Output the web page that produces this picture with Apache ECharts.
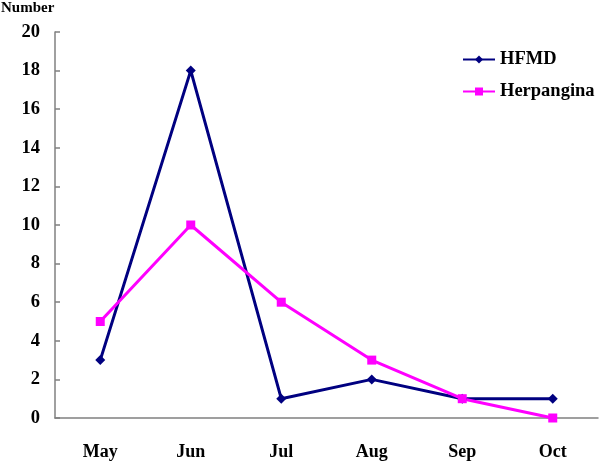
<!DOCTYPE html>
<html>
<head>
<meta charset="utf-8">
<script src="https://cdn.jsdelivr.net/npm/echarts@6/dist/echarts.min.js"></script>
<style>
  html, body { margin: 0; padding: 0; background: #fff; }
  #chart { width: 600px; height: 462px; }
</style>
</head>
<body>
<div id="chart"></div>
<script>
const months = ['May', 'Jun', 'Jul', 'Aug', 'Sep', 'Oct'];
const hfmd = [3, 18, 1, 2, 1, 1];
const herpangina = [5, 10, 6, 3, 1, 0];

const font = 'Liberation Serif, Times New Roman, serif';
const chart = echarts.init(document.getElementById('chart'));

chart.setOption({
  animation: false,
  textStyle: { fontFamily: font },
  grid: { left: 55, right: 2, top: 32, bottom: 44, containLabel: false },
  title: {
    text: 'Number',
    left: 1,
    top: 0,
    padding: [1, 0, 0, 0],
    textStyle: { fontFamily: font, fontSize: 15, fontWeight: 'bold', color: '#000' }
  },
  legend: {
    orient: 'vertical',
    left: 462,
    top: 50,
    padding: 0,
    itemWidth: 32,
    itemHeight: 10,
    itemGap: 13,
    lineStyle: { width: 2 },
    textStyle: { fontFamily: font, fontSize: 18.5, fontWeight: 'bold', color: '#000' },
    data: ['HFMD', 'Herpangina']
  },
  xAxis: {
    type: 'category',
    data: months,
    boundaryGap: true,
    axisLine: { lineStyle: { color: '#808080', width: 1.5 } },
    axisTick: { inside: true, length: 6, lineStyle: { color: '#808080', width: 1.5 } },
    axisLabel: { margin: 25, fontFamily: font, fontSize: 18, fontWeight: 'bold', color: '#000' }
  },
  yAxis: {
    type: 'value',
    min: 0,
    max: 20,
    interval: 2,
    splitLine: { show: false },
    axisLine: { show: true, lineStyle: { color: '#808080', width: 1.5 } },
    axisTick: { show: true, inside: true, length: 5, lineStyle: { color: '#808080', width: 1.5 } },
    axisLabel: { margin: 15, fontFamily: font, fontSize: 18.5, fontWeight: 'bold', color: '#000' }
  },
  series: [
    {
      name: 'HFMD',
      type: 'line',
      data: hfmd,
      symbol: 'diamond',
      symbolSize: 10,
      lineStyle: { color: '#000080', width: 3 },
      itemStyle: { color: '#000080' }
    },
    {
      name: 'Herpangina',
      type: 'line',
      data: herpangina,
      symbol: 'rect',
      symbolSize: 9,
      lineStyle: { color: '#FF00FF', width: 3 },
      itemStyle: { color: '#FF00FF' }
    }
  ]
});
</script>
</body>
</html>
